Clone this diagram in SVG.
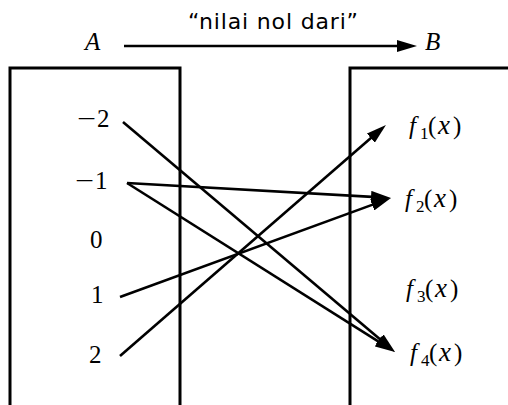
<svg xmlns="http://www.w3.org/2000/svg" width="508" height="405" viewBox="0 0 508 405">
<style>
.box{fill:none;stroke:#000;stroke-width:3}
.con{fill:none;stroke:#000;stroke-width:2.6}
.m{font-family:"Liberation Serif","Times New Roman",serif;font-size:25px;fill:#000}
.it{font-style:italic}
.sub{font-size:17px}
.xx{font-style:italic;font-size:27px}
.lbl{font-family:"DejaVu Sans","Liberation Sans",sans-serif;font-size:22px;fill:#000}
</style>
<defs>
<marker id="ah" viewBox="0 0 20 12" refX="10" refY="6" markerWidth="20" markerHeight="12" markerUnits="userSpaceOnUse" orient="auto">
<path d="M0,0 L20,6 L0,12 z" fill="#000"/>
</marker>
</defs>
<rect width="508" height="405" fill="#fff"/>
<g id="setA">
<path class="box" d="M10,405 V68 H180 V405"/>
<text class="m it" x="85" y="50" font-size="27">A</text>
</g>
<g id="setB">
<path class="box" d="M350,405 V68 H510"/>
<text class="m it" x="425" y="50" font-size="27">B</text>
</g>
<g id="n-2"><text class="m" x="77" y="127"><tspan textLength="19" lengthAdjust="spacingAndGlyphs">−</tspan><tspan x="97">2</tspan></text></g>
<g id="n-1"><text class="m" x="75" y="189"><tspan textLength="19" lengthAdjust="spacingAndGlyphs">−</tspan><tspan x="95">1</tspan></text></g>
<g id="n0"><text class="m" x="90" y="248">0</text></g>
<g id="n1"><text class="m" x="91" y="303">1</text></g>
<g id="n2"><text class="m" x="89" y="363">2</text></g>
<g id="f1"><text class="m" x="409" y="134"><tspan class="it">f</tspan><tspan class="sub" x="420" dy="5">1</tspan><tspan x="428" dy="-5">(</tspan><tspan class="xx" x="438">x</tspan><tspan x="453">)</tspan></text></g>
<g id="f2"><text class="m" x="405" y="207"><tspan class="it">f</tspan><tspan class="sub" x="416" dy="5">2</tspan><tspan x="424" dy="-5">(</tspan><tspan class="xx" x="434">x</tspan><tspan x="449">)</tspan></text></g>
<g id="f3"><text class="m" x="406" y="297"><tspan class="it">f</tspan><tspan class="sub" x="417" dy="5">3</tspan><tspan x="425" dy="-5">(</tspan><tspan class="xx" x="435">x</tspan><tspan x="450">)</tspan></text></g>
<g id="f4"><text class="m" x="410" y="361"><tspan class="it">f</tspan><tspan class="sub" x="421" dy="5">4</tspan><tspan x="429" dy="-5">(</tspan><tspan class="xx" x="439">x</tspan><tspan x="454">)</tspan></text></g>
<g id="connectors">
<line class="con" x1="124" y1="46" x2="407" y2="46" marker-end="url(#ah)"/>
<text class="lbl" x="188" y="29" textLength="170" lengthAdjust="spacing">“nilai nol dari”</text>
<line class="con" x1="123" y1="122" x2="387.4" y2="345.5" marker-end="url(#ah)"/>
<line class="con" x1="127" y1="183" x2="381" y2="197.4" marker-end="url(#ah)"/>
<line class="con" x1="127" y1="183" x2="386.5" y2="346.7" marker-end="url(#ah)"/>
<line class="con" x1="120" y1="297" x2="381.6" y2="201.4" marker-end="url(#ah)"/>
<line class="con" x1="120" y1="356" x2="378.4" y2="131.6" marker-end="url(#ah)"/>
</g>
</svg>
